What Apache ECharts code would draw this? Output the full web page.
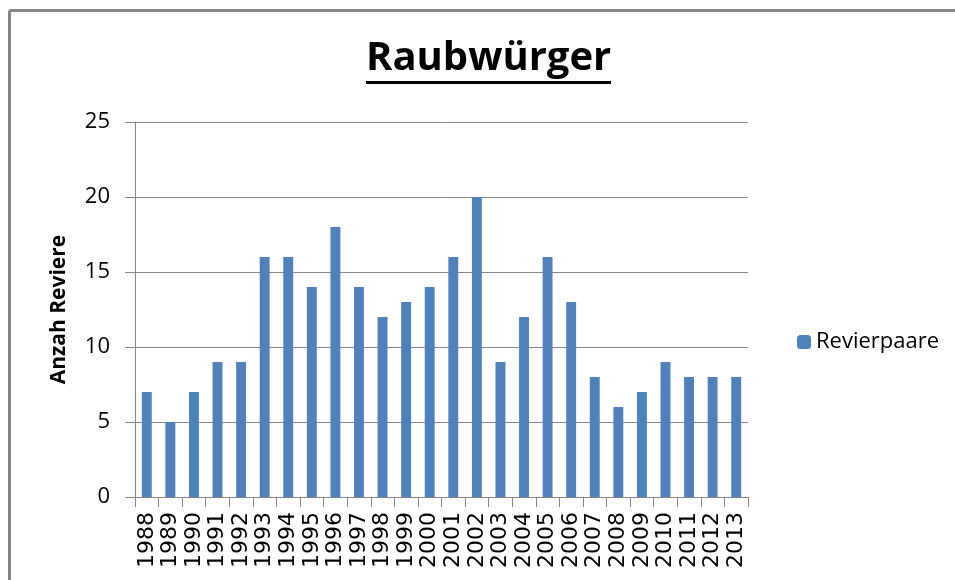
<!DOCTYPE html>
<html>
<head>
<meta charset="utf-8">
<script src="https://cdn.jsdelivr.net/npm/echarts@6/dist/echarts.min.js"></script>
<style>
  html, body { margin: 0; padding: 0; background: #fff; }
  #main { width: 955px; height: 580px; }
</style>
</head>
<body>
<div id="main"></div>
<script>
// Jahre und Revierpaare
var years = ['1988', '1989', '1990', '1991', '1992', '1993', '1994', '1995', '1996', '1997',
  '1998', '1999', '2000', '2001', '2002', '2003', '2004', '2005', '2006', '2007',
  '2008', '2009', '2010', '2011', '2012', '2013'];
var revierpaare = [7, 5, 7, 9, 9, 16, 16, 14, 18, 14, 12, 13, 14, 16, 20, 9, 12, 16, 13, 8, 6, 7, 9, 8, 8, 8];

var chartDom = document.getElementById('main');
var myChart = echarts.init(chartDom);
var option = {
  animation: false,
  title: {
    text: 'Raubwürger',
    left: 366,
    top: 39,
    padding: 0,
    textStyle: {
      fontFamily: 'Open Sans',
      fontSize: 40,
      fontWeight: 'bold',
      color: '#000'
    }
  },
  legend: {
    data: ['Revierpaare'],
    orient: 'vertical',
    left: 792,
    top: 326,
    itemWidth: 14,
    itemHeight: 14,
    itemGap: 8,
    textStyle: {
      fontFamily: 'Open Sans',
      fontSize: 22,
      color: '#000'
    }
  },
  grid: {
    left: 135,
    right: 207,
    top: 122,
    bottom: 83,
    containLabel: false
  },
  xAxis: {
    type: 'category',
    data: years,
    axisLine: { lineStyle: { color: '#868686', width: 1 } },
    axisTick: { show: true, alignWithLabel: false, length: 10, lineStyle: { color: '#868686' } },
    axisLabel: {
      interval: 0,
      rotate: 90,
      margin: 15,
      fontFamily: 'DejaVu Sans',
      fontSize: 22,
      color: '#000'
    }
  },
  yAxis: {
    type: 'value',
    min: 0,
    max: 25,
    interval: 5,
    name: 'Anzah Reviere',
    nameLocation: 'middle',
    nameGap: 65,
    nameTextStyle: {
      fontFamily: 'Open Sans',
      fontSize: 21,
      fontWeight: 'bold',
      color: '#000'
    },
    axisLine: { show: true, lineStyle: { color: '#868686' } },
    axisTick: { show: true, length: 10, lineStyle: { color: '#868686' } },
    axisLabel: {
      margin: 25,
      fontFamily: 'Open Sans',
      fontSize: 22,
      color: '#000'
    },
    splitLine: { lineStyle: { color: '#868686', width: 1 } }
  },
  graphic: [
    // Rahmen links und oben
    { type: 'line', shape: { x1: 9.5, y1: 10.5, x2: 960, y2: 10.5 }, style: { stroke: '#868686', lineWidth: 3 } },
    { type: 'line', shape: { x1: 9.5, y1: 10.5, x2: 9.5, y2: 590 }, style: { stroke: '#868686', lineWidth: 3 } },
    // Unterstreichung Titel
    { type: 'rect', shape: { x: 366, y: 81, width: 245, height: 3 }, style: { fill: '#000' } }
  ],
  series: [{
    name: 'Revierpaare',
    type: 'bar',
    data: revierpaare,
    barWidth: '42%',
    itemStyle: { color: '#4F81BD' }
  }]
};
myChart.setOption(option);
</script>
</body>
</html>
